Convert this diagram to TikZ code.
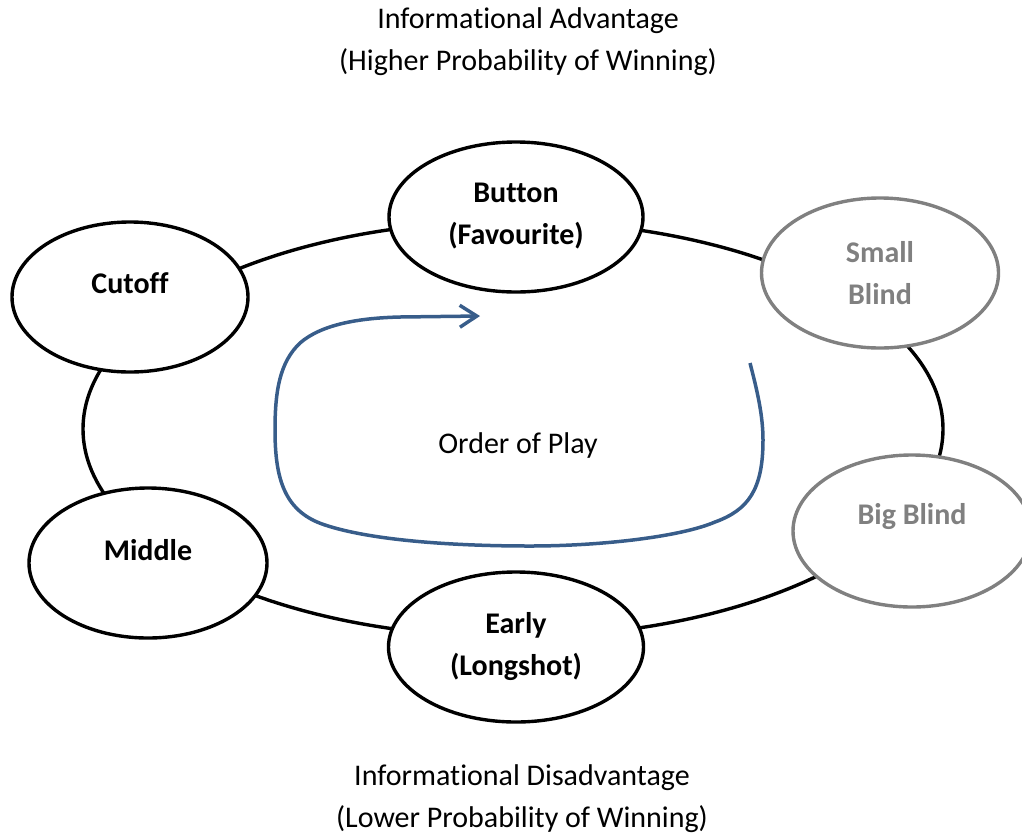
\documentclass[tikz,border=0pt]{standalone}
\usepackage{fontspec}
\setmainfont{Carlito}[Ligatures=NoCommon]
\usetikzlibrary{shapes.geometric,arrows.meta}
\definecolor{seatgray}{RGB}{128,128,128}
\definecolor{playblue}{RGB}{56,93,138}
\begin{document}
\begin{tikzpicture}[x=1pt,y=-1pt,
  every node/.style={font=\fontsize{30}{42}\selectfont, inner sep=0pt},
  seat/.style={ellipse, draw, line width=3.4pt, fill=white, minimum height=150pt},
  blindseat/.style={seat, draw=seatgray},
  seattext/.style={font=\fontsize{30}{42}\selectfont\bfseries, align=center},
  blindtext/.style={seattext, text=seatgray},
  plaintext/.style={align=center},
  ringline/.style={ellipse, draw, line width=3.4pt, minimum width=860pt, minimum height=416pt},
  playarrow/.style={draw=playblue, line width=3.5pt, -{Straight Barb[length=17pt,width=22pt,line width=3.5pt]}}
]
\useasboundingbox (0,0) rectangle (1022,836);
\clip (0,0) rectangle (1022,836);

% ring joining the seats
\node[ringline] (ring) at (513,429) {};

% seats
\node[seat, minimum width=254pt] (button) at (516,217) {};
\node[seat, minimum width=236pt] (cutoff) at (130,297) {};
\node[seat, minimum width=238pt] (middle) at (148,563) {};
\node[seat, minimum width=255pt] (early) at (516,647) {};
\node[blindseat, minimum width=237pt] (small) at (880,273) {};
\node[blindseat, minimum width=238pt, minimum height=152pt] (big) at (912,531) {};

% seat labels
\node[seattext] (buttonT) at (516,216) {Button\\(Favourite)};
\node[seattext] (cutoffT) at (130,283) {Cutoff};
\node[seattext] (middleT) at (148,550) {Middle};
\node[seattext] (earlyT) at (516,647) {Early\\(Longshot)};
\node[blindtext] (smallT) at (880,273) {Small\\Blind};
\node[blindtext] (bigT) at (912,517) {Big Blind};

% captions
\node[plaintext] (topT) at (528,42) {Informational Advantage\\(Higher Probability of Winning)};
\node[plaintext] (botT) at (522,799) {Informational Disadvantage\\(Lower Probability of Winning)};
\node[plaintext] (orderT) at (518,445) {Order of Play};

% order of play arrow
\coordinate (pstart) at (750,363);
\coordinate (pend) at (480,316);
\draw[playarrow] (pstart) .. controls (757,390) and (763,415) .. (763,440)
  .. controls (763,490) and (748,510) .. (715,522)
  .. controls (680,537) and (600,546) .. (530,546)
  .. controls (450,546) and (370,540) .. (325,525)
  .. controls (285,512) and (275,480) .. (275,430)
  .. controls (275,390) and (280,362) .. (300,343)
  .. controls (322,324) and (360,318) .. (400,317)
  -- (pend);
\end{tikzpicture}
\end{document}
